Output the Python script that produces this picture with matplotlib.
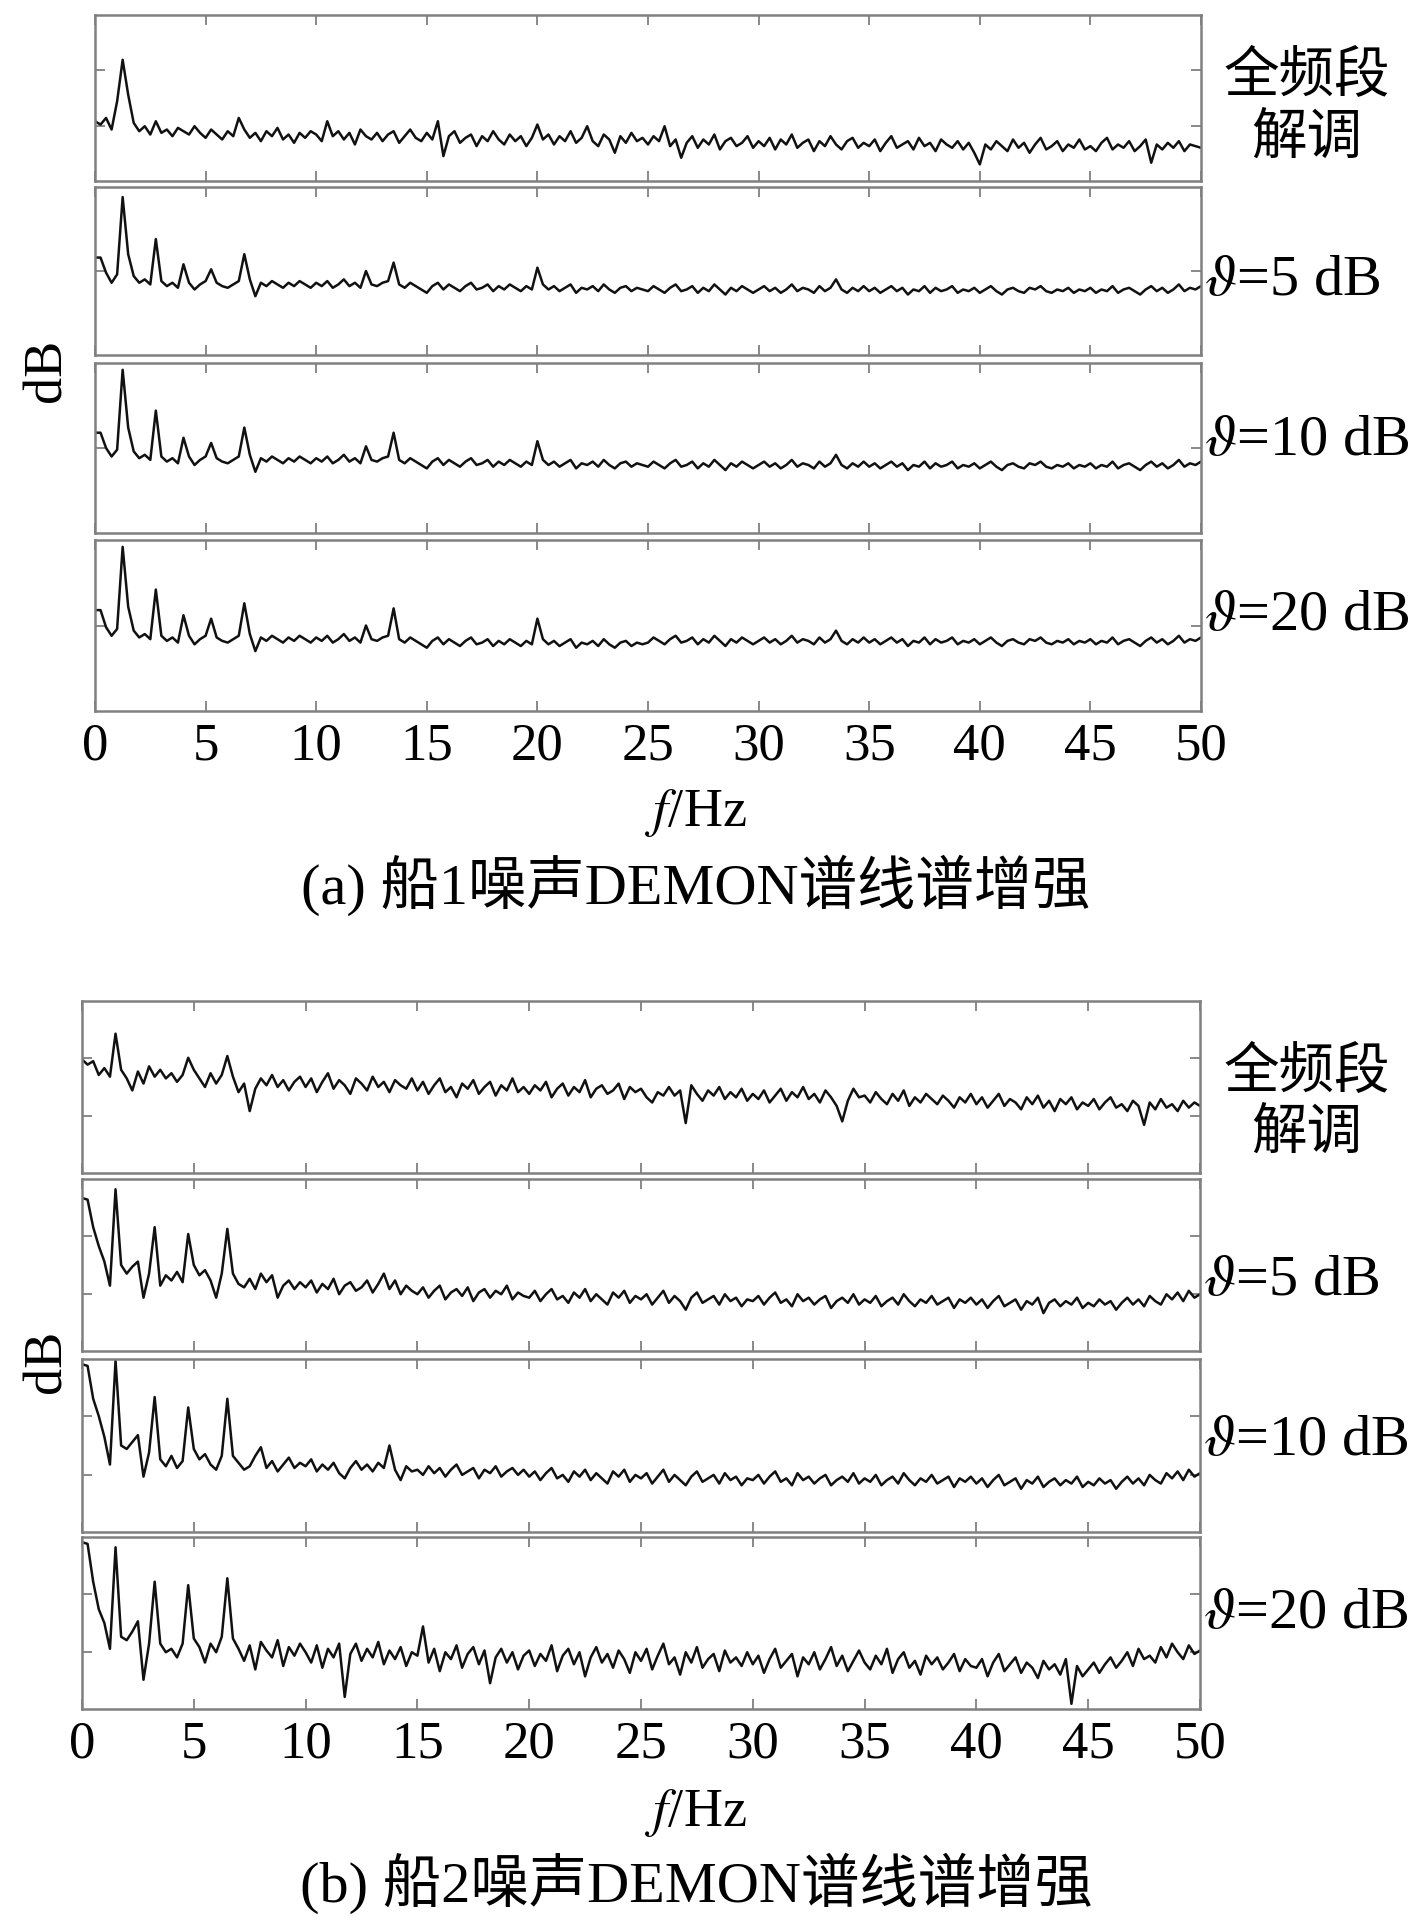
import numpy as np
import matplotlib
matplotlib.use("Agg")
import matplotlib.pyplot as plt

plt.rcParams['font.family'] = ['Liberation Serif', 'Noto Sans CJK SC']
plt.rcParams['mathtext.fontset'] = 'stix'

# ---- data (relative level, 0-100 per panel), grid 0..50 Hz step 0.25, 20 values per 5 Hz row
# ship 1, full-band demodulation
ship1_full = [
    36, 34, 38, 31, 48, 73, 52, 35, 30, 33, 28, 36, 29, 31, 27, 32, 30, 28, 33, 29,
    26, 31, 28, 25, 30, 27, 38, 31, 26, 29, 24, 30, 27, 32, 25, 28, 23, 29, 26, 30,
    28, 24, 36, 27, 30, 25, 29, 22, 31, 27, 25, 29, 24, 28, 30, 23, 27, 31, 26, 24,
    29, 25, 36, 15, 27, 30, 23, 26, 28, 21, 27, 24, 30, 25, 22, 28, 24, 27, 21, 26,
    34, 25, 28, 22, 27, 24, 30, 23, 26, 33, 24, 21, 28, 25, 17, 27, 23, 29, 24, 26,
    22, 27, 24, 33, 21, 25, 14, 23, 27, 20, 25, 22, 28, 19, 24, 26, 21, 23, 27, 20,
    24, 21, 26, 19, 25, 22, 28, 20, 23, 25, 18, 24, 21, 27, 22, 19, 24, 26, 20, 23,
    21, 25, 18, 23, 27, 20, 22, 24, 19, 26, 21, 23, 18, 25, 22, 20, 24, 19, 23, 17,
    10, 22, 19, 24, 21, 18, 25, 20, 23, 17, 22, 26, 19, 21, 24, 18, 22, 20, 25, 19,
    21, 18, 23, 26, 19, 22, 20, 24, 18, 21, 25, 11, 22, 19, 23, 20, 24, 18, 22, 21,
    20,
]
ship1_t5 = [
    58, 58, 49, 43, 48, 94, 60, 47, 43, 45, 42, 69, 44, 41, 43, 40, 54, 43, 39, 42,
    44, 51, 43, 41, 40, 42, 44, 60, 45, 35, 43, 41, 44, 42, 40, 43, 41, 44, 42, 40,
    43, 41, 44, 40, 42, 45, 41, 43, 40, 50, 42, 41, 43, 44, 55, 42, 40, 43, 41, 39,
    37, 41, 43, 39, 42, 40, 38, 41, 43, 39, 40, 42, 38, 41, 39, 42, 40, 38, 41, 39,
    52, 42, 39, 41, 38, 40, 42, 37, 40, 39, 41, 38, 42, 39, 37, 40, 41, 38, 40, 39,
    38, 41, 39, 37, 40, 42, 38, 39, 41, 37, 40, 38, 42, 39, 36, 40, 38, 41, 39, 37,
    39, 41, 38, 40, 37, 39, 42, 38, 40, 39, 37, 41, 38, 40, 45, 39, 37, 40, 38, 41,
    38, 40, 37, 39, 41, 38, 40, 36, 39, 38, 41, 37, 40, 38, 39, 41, 37, 39, 38, 40,
    37, 39, 41, 38, 36, 39, 40, 38, 37, 40, 39, 41, 38, 37, 39, 38, 40, 37, 39, 38,
    40, 37, 39, 38, 41, 37, 39, 40, 38, 36, 39, 41, 38, 40, 37, 39, 42, 38, 40, 39,
    41,
]
ship1_t10 = [
    59, 59, 50, 45, 49, 96, 62, 48, 44, 46, 43, 72, 45, 42, 44, 41, 56, 45, 40, 43,
    45, 53, 44, 42, 41, 43, 45, 62, 46, 36, 44, 42, 45, 43, 41, 44, 42, 45, 43, 41,
    44, 42, 45, 41, 43, 46, 42, 44, 41, 51, 43, 42, 44, 45, 59, 43, 41, 44, 42, 40,
    38, 42, 44, 40, 43, 41, 39, 42, 44, 40, 41, 43, 39, 42, 40, 43, 41, 39, 42, 40,
    54, 43, 40, 42, 39, 41, 43, 38, 41, 40, 42, 39, 43, 40, 38, 41, 42, 39, 41, 40,
    39, 42, 40, 38, 41, 43, 39, 40, 42, 38, 41, 39, 43, 40, 37, 41, 39, 42, 40, 38,
    40, 42, 39, 41, 38, 40, 43, 39, 41, 40, 38, 42, 39, 41, 46, 40, 38, 41, 39, 42,
    39, 41, 38, 40, 42, 39, 41, 37, 40, 39, 42, 38, 41, 39, 40, 42, 38, 40, 39, 41,
    38, 40, 42, 39, 37, 40, 41, 39, 38, 41, 40, 42, 39, 38, 40, 39, 41, 38, 40, 39,
    41, 38, 40, 39, 42, 38, 40, 41, 39, 37, 40, 42, 39, 41, 38, 40, 43, 39, 41, 40,
    42,
]
ship1_t20 = [
    59, 59, 49, 44, 48, 96, 61, 47, 43, 45, 42, 71, 44, 41, 43, 40, 56, 44, 39, 42,
    44, 54, 43, 41, 40, 42, 44, 63, 45, 35, 43, 41, 44, 42, 40, 43, 41, 44, 42, 40,
    43, 41, 44, 40, 42, 45, 41, 43, 40, 50, 42, 41, 43, 44, 60, 42, 40, 43, 41, 39,
    37, 41, 43, 39, 42, 40, 38, 41, 43, 39, 40, 42, 38, 41, 39, 42, 40, 38, 41, 39,
    54, 42, 39, 41, 38, 40, 42, 37, 40, 39, 41, 38, 42, 39, 37, 40, 41, 38, 40, 39,
    40, 43, 41, 39, 42, 44, 40, 41, 43, 39, 42, 40, 44, 41, 38, 42, 40, 43, 41, 39,
    41, 43, 40, 42, 39, 41, 44, 40, 42, 41, 39, 43, 40, 42, 47, 41, 39, 42, 40, 43,
    40, 42, 39, 41, 43, 40, 42, 38, 41, 40, 43, 39, 42, 40, 41, 43, 39, 41, 40, 42,
    39, 41, 43, 40, 38, 41, 42, 40, 39, 42, 41, 43, 40, 39, 41, 40, 42, 39, 41, 40,
    42, 39, 41, 40, 43, 39, 41, 42, 40, 38, 41, 43, 40, 42, 39, 41, 44, 40, 42, 41,
    43,
]

# ship 2
ship2_full = [
    66, 63, 65, 57, 61, 56, 81, 60, 55, 48, 59, 52, 62, 56, 60, 55, 58, 53, 57, 67,
    60, 55, 50, 58, 52, 57, 68, 56, 47, 52, 36, 49, 55, 51, 57, 50, 54, 48, 53, 56,
    50, 55, 47, 53, 58, 49, 54, 51, 46, 55, 52, 48, 56, 50, 53, 47, 54, 51, 49, 55,
    48, 53, 46, 51, 55, 47, 50, 44, 52, 49, 54, 46, 50, 53, 45, 51, 48, 55, 47, 50,
    46, 51, 48, 53, 44, 49, 52, 45, 50, 47, 54, 44, 49, 51, 46, 48, 52, 43, 50, 47,
    49, 44, 41, 47, 45, 50, 45, 48, 29, 51, 46, 42, 48, 45, 50, 43, 47, 44, 49, 42,
    46, 43, 48, 41, 45, 49, 42, 47, 44, 50, 43, 46, 41, 48, 44, 39, 30, 42, 49, 44,
    45, 41, 47, 43, 40, 46, 42, 48, 39, 44, 41, 46, 43, 40, 45, 42, 38, 44, 41, 46,
    40, 44, 38, 42, 46, 39, 43, 41, 37, 44, 40, 45, 38, 42, 36, 43, 40, 44, 37, 41,
    39, 43, 37, 41, 44, 38, 40, 36, 42, 39, 28, 41, 37, 43, 38, 40, 36, 42, 38, 41,
    39,
]
ship2_t5 = [
    89, 88, 72, 61, 52, 38, 94, 50, 45, 49, 52, 31, 45, 72, 38, 44, 41, 46, 40, 68,
    50, 44, 47, 41, 31, 45, 71, 45, 39, 37, 42, 36, 45, 40, 44, 31, 38, 41, 36, 40,
    37, 41, 34, 39, 36, 42, 33, 38, 40, 35, 37, 41, 34, 39, 45, 36, 41, 33, 38, 35,
    33, 37, 31, 35, 38, 30, 34, 36, 32, 37, 29, 34, 36, 31, 35, 33, 38, 30, 34, 32,
    31, 35, 29, 33, 36, 30, 32, 28, 34, 31, 36, 29, 33, 30, 27, 34, 31, 35, 28, 32,
    30, 33, 27, 31, 35, 28, 32, 29, 24, 31, 34, 28, 30, 32, 27, 33, 29, 31, 26, 30,
    29, 32, 27, 31, 34, 28, 30, 26, 33, 29, 31, 27, 30, 32, 25, 29, 31, 28, 33, 27,
    30, 28, 32, 26, 29, 31, 27, 33, 29, 26, 30, 28, 32, 27, 29, 31, 25, 30, 28, 31,
    27, 30, 25, 29, 32, 26, 28, 30, 24, 29, 27, 31, 22, 28, 30, 26, 29, 27, 31, 25,
    28, 26, 30, 27, 29, 24, 28, 31, 27, 30, 26, 32, 29, 27, 33, 30, 34, 29, 35, 31,
    33,
]
ship2_t10 = [
    97, 96, 77, 67, 55, 39, 99, 50, 48, 52, 56, 32, 46, 78, 42, 38, 44, 37, 41, 72,
    48, 42, 45, 39, 36, 44, 77, 44, 40, 36, 38, 44, 49, 37, 41, 35, 39, 43, 37, 40,
    38, 42, 35, 39, 36, 40, 34, 31, 37, 41, 36, 39, 35, 40, 37, 50, 36, 30, 38, 35,
    36, 33, 38, 34, 37, 32, 36, 39, 33, 35, 37, 31, 36, 34, 38, 32, 35, 37, 33, 36,
    32, 35, 30, 34, 37, 31, 33, 29, 35, 32, 36, 30, 34, 31, 28, 35, 32, 36, 29, 33,
    31, 34, 28, 32, 36, 29, 33, 30, 27, 32, 35, 29, 31, 33, 28, 34, 30, 32, 27, 31,
    30, 33, 28, 32, 35, 29, 31, 27, 34, 30, 32, 28, 31, 33, 27, 30, 32, 29, 34, 28,
    31, 29, 33, 27, 30, 32, 28, 34, 30, 27, 31, 29, 33, 28, 30, 32, 26, 31, 29, 32,
    28, 31, 26, 30, 33, 27, 29, 31, 25, 30, 28, 32, 26, 29, 31, 27, 30, 28, 32, 26,
    29, 27, 31, 28, 30, 25, 29, 32, 28, 31, 27, 33, 30, 28, 34, 31, 35, 30, 36, 32,
    34,
]
ship2_t20 = [
    97, 96, 74, 58, 50, 35, 94, 42, 40, 45, 51, 17, 38, 74, 38, 33, 35, 30, 38, 72,
    41, 36, 27, 38, 33, 42, 76, 41, 35, 28, 37, 23, 39, 34, 30, 40, 25, 36, 31, 38,
    33, 27, 37, 24, 35, 30, 38, 7, 32, 38, 28, 35, 30, 39, 26, 34, 29, 36, 25, 33,
    31, 48, 27, 35, 22, 33, 29, 37, 24, 32, 36, 26, 34, 15, 30, 35, 27, 33, 23, 31,
    34, 25, 32, 28, 37, 22, 31, 35, 26, 33, 19, 30, 36, 27, 32, 24, 34, 29, 21, 33,
    28, 35, 23, 31, 38, 26, 30, 20, 33, 27, 36, 24, 29, 32, 22, 34, 27, 30, 25, 33,
    26, 31, 21, 29, 35, 24, 28, 32, 19, 30, 26, 33, 23, 29, 36, 25, 31, 22, 28, 34,
    27, 23, 31, 26, 35, 21, 29, 33, 24, 28, 20, 31, 26, 30, 23, 27, 32, 22, 29, 25,
    24, 29, 19, 27, 32, 22, 26, 30, 21, 27, 24, 18, 28, 23, 26, 20, 29, 3, 25, 19,
    23, 27, 21, 26, 30, 24, 28, 33, 25, 35, 29, 31, 27, 36, 30, 38, 33, 29, 37, 32,
    34,
]

x_ticks = [0, 5, 10, 15, 20, 25, 30, 35, 40, 45, 50]
ship1_series = [ship1_full, ship1_t5, ship1_t10, ship1_t20]
ship2_series = [ship2_full, ship2_t5, ship2_t10, ship2_t20]
panel_labels = [None, r'$\vartheta$=5 dB', r'$\vartheta$=10 dB', r'$\vartheta$=20 dB']
captions = ['(a) 船1噪声DEMON谱线谱增强', '(b) 船2噪声DEMON谱线谱增强']

W, H = 1417, 1932
fig = plt.figure(figsize=(W / 100, H / 100), dpi=100)
frame_col = '#808080'


def px_axes(left, top, right, bottom):
    return fig.add_axes([left / W, 1 - bottom / H, (right - left) / W, (bottom - top) / H])


def draw_group(series, left, right, boxes, yticks_list, label_ys, top_label_ys,
               flabel_y, caption_y, caption, dB_y):
    for i, (vals, (top, bot)) in enumerate(zip(series, boxes)):
        ax = px_axes(left, top, right, bot)
        f = np.linspace(0, 50, len(vals))
        ax.plot(f, vals, color='#111111', lw=1.8)
        ax.set_xlim(0, 50)
        ax.set_ylim(0, 100)
        ax.set_xticks(x_ticks)
        ax.set_yticks(yticks_list[i])
        ax.tick_params(direction='in', top=True, right=True, length=7, width=1.3,
                       color=frame_col, labelleft=False)
        if i < 3:
            ax.tick_params(labelbottom=False)
        else:
            ax.tick_params(labelsize=38, pad=8)
        for sp in ax.spines.values():
            sp.set_color(frame_col)
            sp.set_linewidth(1.8)
        if panel_labels[i] is not None:
            fig.text((right + 3) / W, 1 - label_ys[i] / H, panel_labels[i],
                     fontsize=42, ha='left', va='center')
    # full-band label
    fig.text(1307 / W, 1 - top_label_ys[0] / H, '全频段', fontsize=40,
             ha='center', va='center', family=['Noto Sans CJK SC'])
    fig.text(1307 / W, 1 - top_label_ys[1] / H, '解调', fontsize=40,
             ha='center', va='center', family=['Noto Sans CJK SC'])
    fig.text(696 / W, 1 - flabel_y / H, r'$f$/Hz', fontsize=39, ha='center', va='center')
    fig.text(696 / W, 1 - caption_y / H, caption, fontsize=42, ha='center', va='center')
    fig.text(47 / W, 1 - dB_y / H, 'dB', fontsize=39, rotation=90, ha='center', va='center')


draw_group(ship1_series, 95, 1201,
           [(15, 181), (187, 355), (363, 533), (540, 711)],
           [[33, 67], [50], [50], [50]],
           [None, 281, 441, 616], (76, 138),
           813, 885, captions[0], 370)

draw_group(ship2_series, 82, 1200,
           [(1001, 1173), (1179, 1351), (1359, 1532), (1537, 1709)],
           [[33, 67], [33, 67], [33, 67], [33, 67]],
           [None, 1281, 1441, 1614], (1072, 1133),
           1813, 1883, captions[1], 1361)

fig.savefig('out.png', dpi=100, facecolor='white')
